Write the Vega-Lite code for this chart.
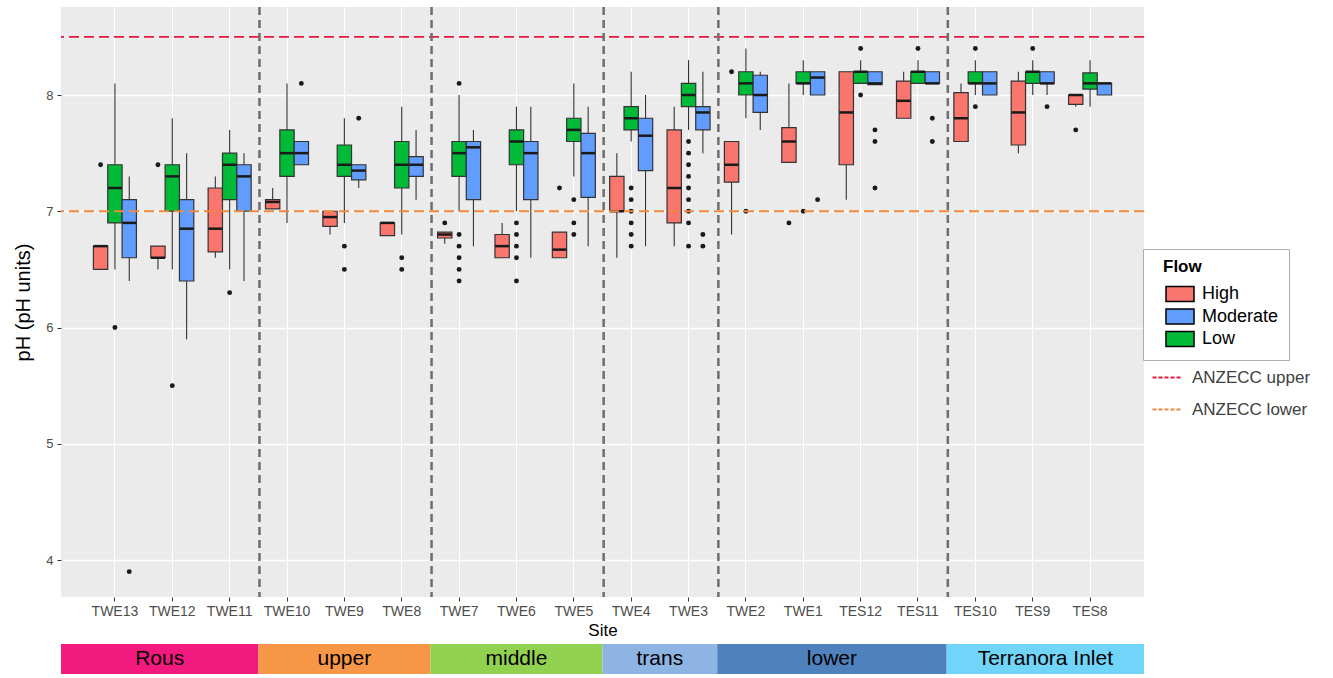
{
  "$schema": "https://vega.github.io/schema/vega-lite/v6.json",
  "padding": {"left": 13, "top": 5, "right": 5, "bottom": 3},
  "background": "white",
  "config": {"font": "Liberation Sans", "view": {"stroke": null}},
  "spacing": 6,
  "resolve": {"scale": {"x": "independent", "fill": "independent"}},
  "datasets": {
    "boxes": [
      {"site": "TWE13", "flow": "High", "lo": 6.5, "q1": 6.5, "med": 6.7, "q3": 6.7, "hi": 6.7},
      {"site": "TWE13", "flow": "Low", "lo": 6.5, "q1": 6.9, "med": 7.2, "q3": 7.4, "hi": 8.1},
      {"site": "TWE13", "flow": "Moderate", "lo": 6.4, "q1": 6.6, "med": 6.9, "q3": 7.1, "hi": 7.3},
      {"site": "TWE12", "flow": "High", "lo": 6.5, "q1": 6.6, "med": 6.6, "q3": 6.7, "hi": 6.7},
      {"site": "TWE12", "flow": "Low", "lo": 6.5, "q1": 7.0, "med": 7.3, "q3": 7.4, "hi": 7.8},
      {"site": "TWE12", "flow": "Moderate", "lo": 5.9, "q1": 6.4, "med": 6.85, "q3": 7.1, "hi": 7.5},
      {"site": "TWE11", "flow": "High", "lo": 6.6, "q1": 6.65, "med": 6.85, "q3": 7.2, "hi": 7.3},
      {"site": "TWE11", "flow": "Low", "lo": 6.5, "q1": 7.1, "med": 7.4, "q3": 7.5, "hi": 7.7},
      {"site": "TWE11", "flow": "Moderate", "lo": 6.4, "q1": 7.0, "med": 7.3, "q3": 7.4, "hi": 7.5},
      {"site": "TWE10", "flow": "High", "lo": 7.02, "q1": 7.02, "med": 7.08, "q3": 7.1, "hi": 7.2},
      {"site": "TWE10", "flow": "Low", "lo": 6.9, "q1": 7.3, "med": 7.5, "q3": 7.7, "hi": 8.1},
      {"site": "TWE10", "flow": "Moderate", "lo": 7.4, "q1": 7.4, "med": 7.5, "q3": 7.6, "hi": 7.6},
      {"site": "TWE9", "flow": "High", "lo": 6.8, "q1": 6.87, "med": 6.95, "q3": 7.0, "hi": 7.0},
      {"site": "TWE9", "flow": "Low", "lo": 6.9, "q1": 7.3, "med": 7.4, "q3": 7.57, "hi": 7.8},
      {"site": "TWE9", "flow": "Moderate", "lo": 7.2, "q1": 7.27, "med": 7.35, "q3": 7.4, "hi": 7.4},
      {"site": "TWE8", "flow": "High", "lo": 6.79, "q1": 6.79, "med": 6.9, "q3": 6.9, "hi": 6.9},
      {"site": "TWE8", "flow": "Low", "lo": 6.8, "q1": 7.2, "med": 7.4, "q3": 7.6, "hi": 7.9},
      {"site": "TWE8", "flow": "Moderate", "lo": 7.1, "q1": 7.3, "med": 7.4, "q3": 7.47, "hi": 7.7},
      {"site": "TWE7", "flow": "High", "lo": 6.72, "q1": 6.77, "med": 6.8, "q3": 6.82, "hi": 6.82},
      {"site": "TWE7", "flow": "Low", "lo": 7.0, "q1": 7.3, "med": 7.5, "q3": 7.6, "hi": 8.0},
      {"site": "TWE7", "flow": "Moderate", "lo": 6.7, "q1": 7.1, "med": 7.55, "q3": 7.6, "hi": 7.7},
      {"site": "TWE6", "flow": "High", "lo": 6.6, "q1": 6.6, "med": 6.7, "q3": 6.8, "hi": 6.9},
      {"site": "TWE6", "flow": "Low", "lo": 7.0, "q1": 7.4, "med": 7.6, "q3": 7.7, "hi": 7.9},
      {"site": "TWE6", "flow": "Moderate", "lo": 6.6, "q1": 7.1, "med": 7.5, "q3": 7.6, "hi": 7.9},
      {"site": "TWE5", "flow": "High", "lo": 6.6, "q1": 6.6, "med": 6.67, "q3": 6.82, "hi": 6.82},
      {"site": "TWE5", "flow": "Low", "lo": 7.3, "q1": 7.6, "med": 7.7, "q3": 7.8, "hi": 8.1},
      {"site": "TWE5", "flow": "Moderate", "lo": 6.7, "q1": 7.12, "med": 7.5, "q3": 7.67, "hi": 7.9},
      {"site": "TWE4", "flow": "High", "lo": 6.6, "q1": 7.0, "med": 7.0, "q3": 7.3, "hi": 7.5},
      {"site": "TWE4", "flow": "Low", "lo": 7.6, "q1": 7.7, "med": 7.8, "q3": 7.9, "hi": 8.2},
      {"site": "TWE4", "flow": "Moderate", "lo": 6.7, "q1": 7.35, "med": 7.65, "q3": 7.8, "hi": 8.0},
      {"site": "TWE3", "flow": "High", "lo": 6.7, "q1": 6.9, "med": 7.2, "q3": 7.7, "hi": 7.9},
      {"site": "TWE3", "flow": "Low", "lo": 7.7, "q1": 7.9, "med": 8.0, "q3": 8.1, "hi": 8.3},
      {"site": "TWE3", "flow": "Moderate", "lo": 7.5, "q1": 7.7, "med": 7.85, "q3": 7.9, "hi": 8.2},
      {"site": "TWE2", "flow": "High", "lo": 6.8, "q1": 7.25, "med": 7.4, "q3": 7.6, "hi": 7.6},
      {"site": "TWE2", "flow": "Low", "lo": 7.8, "q1": 8.0, "med": 8.1, "q3": 8.2, "hi": 8.4},
      {"site": "TWE2", "flow": "Moderate", "lo": 7.7, "q1": 7.85, "med": 8.0, "q3": 8.17, "hi": 8.2},
      {"site": "TWE1", "flow": "High", "lo": 7.42, "q1": 7.42, "med": 7.6, "q3": 7.72, "hi": 8.1},
      {"site": "TWE1", "flow": "Low", "lo": 8.0, "q1": 8.1, "med": 8.1, "q3": 8.2, "hi": 8.3},
      {"site": "TWE1", "flow": "Moderate", "lo": 8.0, "q1": 8.0, "med": 8.15, "q3": 8.2, "hi": 8.2},
      {"site": "TES12", "flow": "High", "lo": 7.1, "q1": 7.4, "med": 7.85, "q3": 8.2, "hi": 8.2},
      {"site": "TES12", "flow": "Low", "lo": 8.1, "q1": 8.1, "med": 8.2, "q3": 8.2, "hi": 8.3},
      {"site": "TES12", "flow": "Moderate", "lo": 8.09, "q1": 8.09, "med": 8.1, "q3": 8.2, "hi": 8.2},
      {"site": "TES11", "flow": "High", "lo": 7.8, "q1": 7.8, "med": 7.95, "q3": 8.12, "hi": 8.2},
      {"site": "TES11", "flow": "Low", "lo": 8.1, "q1": 8.1, "med": 8.2, "q3": 8.2, "hi": 8.3},
      {"site": "TES11", "flow": "Moderate", "lo": 8.1, "q1": 8.1, "med": 8.1, "q3": 8.2, "hi": 8.2},
      {"site": "TES10", "flow": "High", "lo": 7.6, "q1": 7.6, "med": 7.8, "q3": 8.02, "hi": 8.1},
      {"site": "TES10", "flow": "Low", "lo": 8.0, "q1": 8.1, "med": 8.1, "q3": 8.2, "hi": 8.3},
      {"site": "TES10", "flow": "Moderate", "lo": 8.0, "q1": 8.0, "med": 8.1, "q3": 8.2, "hi": 8.2},
      {"site": "TES9", "flow": "High", "lo": 7.5, "q1": 7.57, "med": 7.85, "q3": 8.12, "hi": 8.2},
      {"site": "TES9", "flow": "Low", "lo": 8.0, "q1": 8.1, "med": 8.2, "q3": 8.2, "hi": 8.3},
      {"site": "TES9", "flow": "Moderate", "lo": 8.0, "q1": 8.1, "med": 8.1, "q3": 8.2, "hi": 8.2},
      {"site": "TES8", "flow": "High", "lo": 7.9, "q1": 7.92, "med": 8.0, "q3": 8.0, "hi": 8.0},
      {"site": "TES8", "flow": "Low", "lo": 7.9, "q1": 8.05, "med": 8.1, "q3": 8.19, "hi": 8.3},
      {"site": "TES8", "flow": "Moderate", "lo": 8.0, "q1": 8.0, "med": 8.1, "q3": 8.1, "hi": 8.1}
    ],
    "outliers": [
      {"site": "TWE13", "flow": "High", "value": 7.4},
      {"site": "TWE13", "flow": "Low", "value": 6.0},
      {"site": "TWE13", "flow": "Moderate", "value": 3.9},
      {"site": "TWE12", "flow": "High", "value": 7.4},
      {"site": "TWE12", "flow": "Low", "value": 5.5},
      {"site": "TWE11", "flow": "Low", "value": 6.3},
      {"site": "TWE10", "flow": "Moderate", "value": 8.1},
      {"site": "TWE9", "flow": "Low", "value": 6.7},
      {"site": "TWE9", "flow": "Low", "value": 6.5},
      {"site": "TWE9", "flow": "Moderate", "value": 7.8},
      {"site": "TWE8", "flow": "Low", "value": 6.6},
      {"site": "TWE8", "flow": "Low", "value": 6.5},
      {"site": "TWE7", "flow": "High", "value": 6.9},
      {"site": "TWE7", "flow": "Low", "value": 8.1},
      {"site": "TWE7", "flow": "Low", "value": 6.8},
      {"site": "TWE7", "flow": "Low", "value": 6.7},
      {"site": "TWE7", "flow": "Low", "value": 6.6},
      {"site": "TWE7", "flow": "Low", "value": 6.5},
      {"site": "TWE7", "flow": "Low", "value": 6.4},
      {"site": "TWE6", "flow": "Low", "value": 6.9},
      {"site": "TWE6", "flow": "Low", "value": 6.8},
      {"site": "TWE6", "flow": "Low", "value": 6.7},
      {"site": "TWE6", "flow": "Low", "value": 6.6},
      {"site": "TWE6", "flow": "Low", "value": 6.4},
      {"site": "TWE5", "flow": "High", "value": 7.2},
      {"site": "TWE5", "flow": "Low", "value": 7.1},
      {"site": "TWE5", "flow": "Low", "value": 6.9},
      {"site": "TWE5", "flow": "Low", "value": 6.8},
      {"site": "TWE4", "flow": "Low", "value": 7.2},
      {"site": "TWE4", "flow": "Low", "value": 7.1},
      {"site": "TWE4", "flow": "Low", "value": 7.0},
      {"site": "TWE4", "flow": "Low", "value": 6.9},
      {"site": "TWE4", "flow": "Low", "value": 6.8},
      {"site": "TWE4", "flow": "Low", "value": 6.7},
      {"site": "TWE3", "flow": "Low", "value": 7.6},
      {"site": "TWE3", "flow": "Low", "value": 7.5},
      {"site": "TWE3", "flow": "Low", "value": 7.4},
      {"site": "TWE3", "flow": "Low", "value": 7.3},
      {"site": "TWE3", "flow": "Low", "value": 7.2},
      {"site": "TWE3", "flow": "Low", "value": 7.1},
      {"site": "TWE3", "flow": "Low", "value": 7.0},
      {"site": "TWE3", "flow": "Low", "value": 6.9},
      {"site": "TWE3", "flow": "Low", "value": 6.7},
      {"site": "TWE3", "flow": "Moderate", "value": 6.8},
      {"site": "TWE3", "flow": "Moderate", "value": 6.7},
      {"site": "TWE2", "flow": "High", "value": 8.2},
      {"site": "TWE2", "flow": "Low", "value": 7.0},
      {"site": "TWE1", "flow": "High", "value": 6.9},
      {"site": "TWE1", "flow": "Low", "value": 7.0},
      {"site": "TWE1", "flow": "Moderate", "value": 7.1},
      {"site": "TES12", "flow": "Low", "value": 8.4},
      {"site": "TES12", "flow": "Low", "value": 8.0},
      {"site": "TES12", "flow": "Moderate", "value": 7.7},
      {"site": "TES12", "flow": "Moderate", "value": 7.6},
      {"site": "TES12", "flow": "Moderate", "value": 7.2},
      {"site": "TES11", "flow": "Low", "value": 8.4},
      {"site": "TES11", "flow": "Moderate", "value": 7.8},
      {"site": "TES11", "flow": "Moderate", "value": 7.6},
      {"site": "TES10", "flow": "Low", "value": 8.4},
      {"site": "TES10", "flow": "Low", "value": 7.9},
      {"site": "TES9", "flow": "Low", "value": 8.4},
      {"site": "TES9", "flow": "Moderate", "value": 7.9},
      {"site": "TES8", "flow": "High", "value": 7.7}
    ],
    "guidelines": [
      {"name": "ANZECC upper", "value": 8.5},
      {"name": "ANZECC lower", "value": 7.0}
    ],
    "separators": [
      {"site": "TWE10"}, {"site": "TWE7"}, {"site": "TWE4"}, {"site": "TWE2"}, {"site": "TES10"}
    ],
    "regions": [
      {"region": "Rous", "start": 0.06, "end": 3.5},
      {"region": "upper", "start": 3.5, "end": 6.5},
      {"region": "middle", "start": 6.5, "end": 9.5},
      {"region": "trans", "start": 9.5, "end": 11.5},
      {"region": "lower", "start": 11.5, "end": 15.5},
      {"region": "Terranora Inlet", "start": 15.5, "end": 18.94}
    ]
  },
  "vconcat": [
    {
      "width": 1083,
      "height": 590,
      "view": {"fill": "#EBEBEB", "stroke": null},
      "encoding": {
        "x": {
          "field": "site", "type": "nominal", "title": "Site",
          "scale": {"domain": ["TWE13","TWE12","TWE11","TWE10","TWE9","TWE8","TWE7","TWE6","TWE5","TWE4","TWE3","TWE2","TWE1","TES12","TES11","TES10","TES9","TES8"], "paddingInner": 0, "paddingOuter": 0.44},
          "axis": {"labelAngle": 0, "grid": true, "gridColor": "white", "gridWidth": 1, "bandPosition": 0.5, "domain": false, "tickColor": "#333333", "tickSize": 4, "labelColor": "#4D4D4D", "labelFontSize": 14, "labelPadding": 3, "titleFontSize": 17, "titleFontWeight": "normal", "titleColor": "black", "titlePadding": 4}
        }
      },
      "layer": [
        {
          "data": {"name": "boxes"},
          "mark": {"type": "rule", "stroke": "#333333", "strokeWidth": 1.1},
          "encoding": {
            "xOffset": {"field": "flow", "type": "nominal", "scale": {"domain": ["High","Low","Moderate"], "paddingInner": 0, "paddingOuter": 0.5}},
            "y": {"field": "lo", "type": "quantitative", "title": "pH (pH units)",
              "scale": {"domain": [3.682, 8.757], "nice": false, "zero": false},
              "axis": {"values": [4,5,6,7,8], "format": "d", "grid": true, "gridColor": "white", "gridWidth": 1.3, "domain": false, "tickColor": "#333333", "tickSize": 4, "labelColor": "#4D4D4D", "labelFontSize": 13, "labelPadding": 4, "titleFontSize": 20, "titleFontWeight": "normal", "titleColor": "black", "titlePadding": 12}},
            "y2": {"field": "hi"}
          }
        },
        {
          "data": {"name": "boxes"},
          "mark": {"type": "bar", "stroke": "#333333", "strokeWidth": 1.2, "width": {"band": 1}},
          "encoding": {
            "xOffset": {"field": "flow", "type": "nominal", "scale": {"domain": ["High","Low","Moderate"], "paddingInner": 0, "paddingOuter": 0.5}},
            "y": {"field": "q1", "type": "quantitative", "title": "pH (pH units)"},
            "y2": {"field": "q3"},
            "fill": {"field": "flow", "type": "nominal", "title": "Flow",
              "scale": {"domain": ["High","Moderate","Low"], "range": ["#F8766D","#619CFF","#00BA38"]},
              "legend": {
                "orient": "none", "legendX": 1082, "legendY": 242,
                "fillColor": "white", "strokeColor": "#ADADAD", "padding": 10,
                "titleFontSize": 17, "titleFontWeight": "bold", "titleColor": "black", "titlePadding": 7,
                "labelFontSize": 18, "labelColor": "black", "labelOffset": 11, "rowPadding": 0.5,
                "symbolType": "M-1.4,-0.75H1.4V0.75H-1.4Z", "symbolSize": 400, "symbolOffset": 16,
                "symbolStrokeColor": "black", "symbolStrokeWidth": 1.5, "symbolOpacity": 1,
                "encode": {"title": {"update": {"dx": {"value": 10}}}}
              }
            }
          }
        },
        {
          "data": {"name": "boxes"},
          "mark": {"type": "tick", "color": "#1A1A1A", "thickness": 2.5, "size": 14, "opacity": 1},
          "encoding": {
            "xOffset": {"field": "flow", "type": "nominal", "scale": {"domain": ["High","Low","Moderate"], "paddingInner": 0, "paddingOuter": 0.5}},
            "y": {"field": "med", "type": "quantitative", "title": "pH (pH units)"}
          }
        },
        {
          "data": {"name": "outliers"},
          "mark": {"type": "point", "filled": true, "color": "#1A1A1A", "size": 24, "opacity": 1},
          "encoding": {
            "xOffset": {"field": "flow", "type": "nominal", "scale": {"domain": ["High","Low","Moderate"], "paddingInner": 0, "paddingOuter": 0.5}},
            "y": {"field": "value", "type": "quantitative", "title": "pH (pH units)"}
          }
        },
        {
          "data": {"name": "guidelines"},
          "mark": {"type": "rule", "strokeDash": [10, 5], "strokeWidth": 1.8},
          "encoding": {
            "x": null,
            "y": {"field": "value", "type": "quantitative", "title": "pH (pH units)"},
            "stroke": {"field": "name", "type": "nominal",
              "scale": {"domain": ["ANZECC upper","ANZECC lower"], "range": ["#E8193F","#F0883E"]},
              "legend": {"orient": "none", "legendX": 1090, "legendY": 355, "title": null, "padding": 0,
                "symbolType": "stroke", "symbolStrokeWidth": 2.2, "symbolDash": [4, 2], "symbolSize": 784,
                "labelFontSize": 17, "labelColor": "#404040", "labelOffset": 10, "rowPadding": 8}
            }
          }
        },
        {
          "data": {"name": "separators"},
          "mark": {"type": "rule", "stroke": "#6E6E6E", "strokeWidth": 2.5, "strokeDash": [8, 5]},
          "encoding": {
            "x": {"field": "site", "type": "nominal", "bandPosition": 0.02, "title": "Site"}
          }
        }
      ]
    },
    {
      "width": 1083,
      "height": 30,
      "data": {"name": "regions"},
      "layer": [
        {
          "mark": {"type": "rect"},
          "encoding": {
            "x": {"field": "start", "type": "quantitative", "scale": {"domain": [0.06, 18.94], "nice": false, "zero": false}, "axis": null},
            "x2": {"field": "end"},
            "fill": {"field": "region", "type": "nominal", "legend": null,
              "scale": {"domain": ["Rous","upper","middle","trans","lower","Terranora Inlet"], "range": ["#F21A7E","#F79646","#92D050","#8DB4E2","#4F81BD","#71D4F9"]}}
          }
        },
        {
          "transform": [{"fold": ["start", "end"], "as": ["edge", "pos"]}],
          "mark": {"type": "text", "fontSize": 21, "color": "black", "baseline": "middle"},
          "encoding": {
            "x": {"aggregate": "mean", "field": "pos", "type": "quantitative", "axis": null},
            "text": {"field": "region", "type": "nominal"}
          }
        }
      ]
    }
  ]
}
